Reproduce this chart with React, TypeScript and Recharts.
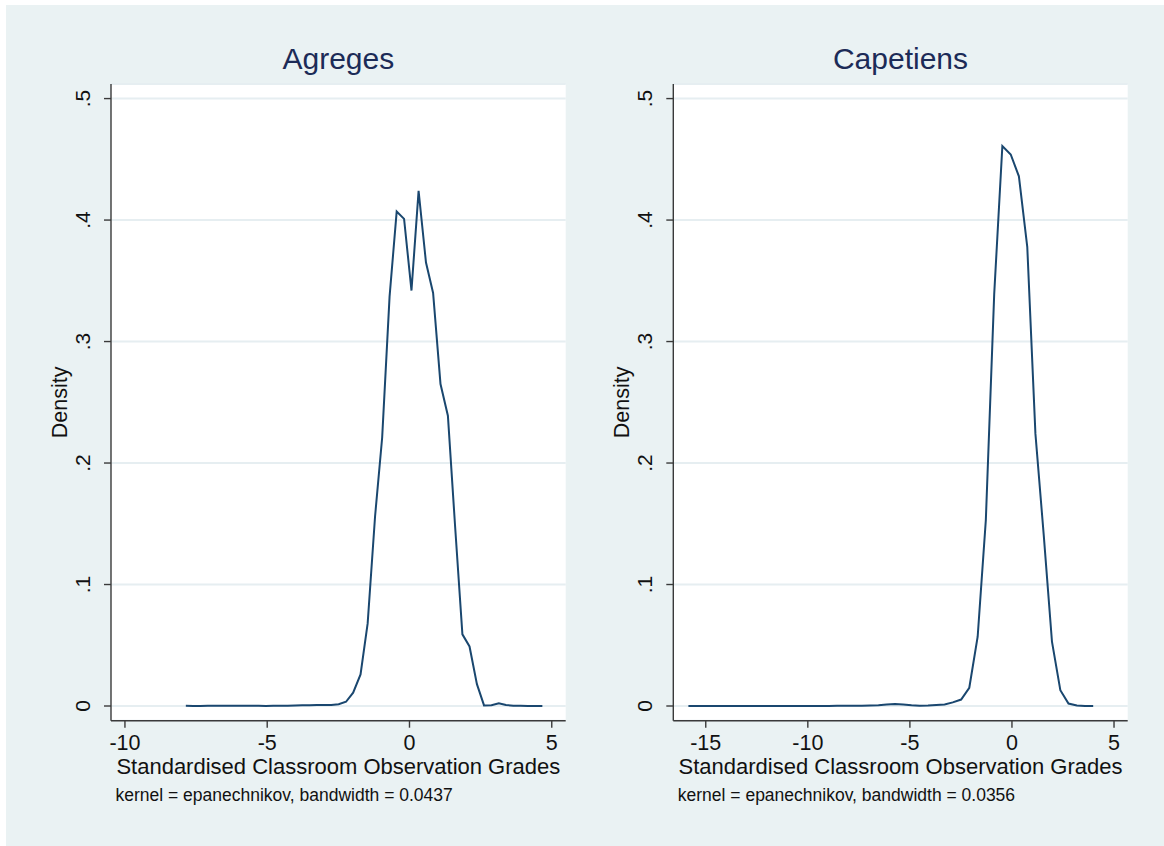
import React from "react";
import { LineChart, Line, XAxis, YAxis, CartesianGrid, Label } from "recharts";

// ---- Data (kdensity evaluation grid, 50 points each) ----
const agregesX = [
  -7.86, -7.6, -7.35, -7.09, -6.84, -6.58, -6.33, -6.07, -5.81, -5.56,
  -5.3, -5.05, -4.79, -4.54, -4.28, -4.02, -3.77, -3.51, -3.26, -3.0,
  -2.75, -2.49, -2.23, -1.98, -1.72, -1.47, -1.21, -0.96, -0.7, -0.45,
  -0.19, 0.07, 0.32, 0.58, 0.83, 1.09, 1.35, 1.6, 1.86, 2.11,
  2.37, 2.62, 2.88, 3.14, 3.39, 3.65, 3.9, 4.16, 4.41, 4.67,
];
const agregesY = [
  0.0002, 0.0001, 0.0001, 0.0002, 0.0003, 0.0003, 0.0002, 0.0002, 0.0003, 0.0002,
  0.0002, 0.0001, 0.0002, 0.0003, 0.0003, 0.0005, 0.0006, 0.0006, 0.0008, 0.0008,
  0.0008, 0.0015, 0.0035, 0.011, 0.026, 0.068, 0.156, 0.221, 0.337, 0.407,
  0.401, 0.342, 0.424, 0.365, 0.34, 0.265, 0.239, 0.149, 0.059, 0.049,
  0.018, 0.0005, 0.0006, 0.0022, 0.0008, 0.0003, 0.0002, 0.0001, 0.0001, 0.0001,
];

const capetiensX = [
  -15.85, -15.45, -15.04, -14.64, -14.23, -13.83, -13.42, -13.02, -12.61, -12.21,
  -11.8, -11.4, -10.99, -10.59, -10.18, -9.78, -9.38, -8.97, -8.57, -8.16,
  -7.76, -7.35, -6.95, -6.54, -6.14, -5.73, -5.33, -4.92, -4.52, -4.11,
  -3.71, -3.3, -2.9, -2.49, -2.09, -1.68, -1.28, -0.87, -0.47, -0.06,
  0.34, 0.75, 1.15, 1.56, 1.96, 2.37, 2.77, 3.18, 3.58, 3.98,
];
const capetiensY = [
  0.0001, 0.0001, 0.0001, 0.0001, 0.0001, 0.0001, 0.0001, 0.0001, 0.0001, 0.0001,
  0.0001, 0.0001, 0.0001, 0.0001, 0.0001, 0.0001, 0.0001, 0.0001, 0.0002, 0.0002,
  0.0002, 0.0003, 0.0004, 0.0006, 0.0012, 0.0017, 0.0012, 0.0006, 0.0003, 0.0004,
  0.0008, 0.0013, 0.003, 0.0053, 0.015, 0.057, 0.153, 0.339, 0.461, 0.454,
  0.436, 0.378, 0.224, 0.14, 0.053, 0.013, 0.002, 0.0004, 0.0001, 0.0001,
];

const agregesTicks = [-10, -5, 0, 5];
const capetiensTicks = [-15, -10, -5, 0, 5];
const yTicks = [0, 0.1, 0.2, 0.3, 0.4, 0.5];
const yTickLabels = ["0", ".1", ".2", ".3", ".4", ".5"];

const titles = ["Agreges", "Capetiens"];
const xTitle = "Standardised Classroom Observation Grades";
const yTitle = "Density";
const notes = [
  "kernel = epanechnikov, bandwidth = 0.0437",
  "kernel = epanechnikov, bandwidth = 0.0356",
];

// ---- Styling ----
const FONT = "'Liberation Sans', Arial, Helvetica, sans-serif";
const OUTER_BG = "#eaf2f3";
const GRID = "#e6eef1";
const LINE = "#1a476f";
const AXIS = "#3a3a3a";
const TEXT = "#111111";
const TITLE = "#1c2b57";

const toData = (xs: number[], ys: number[]) => xs.map((x, i) => ({ x, y: ys[i] }));

const XTick = (props: any) => {
  const { x, y, payload } = props;
  return (
    <text x={x} y={y + 20.5} textAnchor="middle" fontFamily={FONT} fontSize={21.5} fill={TEXT}>
      {String(payload.value)}
    </text>
  );
};

const YTick = (props: any) => {
  const { x, y, payload } = props;
  const idx = yTicks.findIndex((t) => Math.abs(t - payload.value) < 1e-9);
  const label = idx >= 0 ? yTickLabels[idx] : String(payload.value);
  const bx = x - 12;
  return (
    <text
      x={bx}
      y={y}
      textAnchor="middle"
      transform={`rotate(-90, ${bx}, ${y})`}
      fontFamily={FONT}
      fontSize={21}
      fill={TEXT}
    >
      {label}
    </text>
  );
};

const makeXLabel = (title: string, note: string) => (props: any) => {
  const vb = props.viewBox || {};
  const cx = vb.x + vb.width / 2;
  const top = vb.y;
  return (
    <g>
      <text x={cx} y={top - 651.7} textAnchor="middle" fontFamily={FONT} fontSize={30} fill={TITLE}>
        {title}
      </text>
      <text x={cx} y={top + 53.3} textAnchor="middle" fontFamily={FONT} fontSize={22} fill={TEXT}>
        {xTitle}
      </text>
      <text x={vb.x + 4.5} y={top + 80.3} textAnchor="start" fontFamily={FONT} fontSize={17.5} fill={TEXT}>
        {note}
      </text>
    </g>
  );
};

const YLabel = (props: any) => {
  const vb = props.viewBox || {};
  const bx = vb.x + vb.width - 44;
  const cy = vb.y + vb.height / 2;
  return (
    <text
      x={bx}
      y={cy}
      textAnchor="middle"
      transform={`rotate(-90, ${bx}, ${cy})`}
      fontFamily={FONT}
      fontSize={21.5}
      fill={TEXT}
    >
      {yTitle}
    </text>
  );
};

type PanelProps = {
  left: number;
  width: number;
  yAxisWidth: number;
  marginRight: number;
  data: { x: number; y: number }[];
  domain: [number, number];
  ticks: number[];
  title: string;
  note: string;
};

const Panel = ({ left, width, yAxisWidth, marginRight, data, domain, ticks, title, note }: PanelProps) => (
  <div style={{ position: "absolute", left, top: 0, width, height: 846 }}>
    <LineChart
      width={width}
      height={846}
      data={data}
      margin={{ top: 84, right: marginRight, bottom: 65.3, left: 0 }}
    >
      <CartesianGrid vertical={false} horizontal={true} fill="#ffffff" stroke={GRID} strokeWidth={2} />
      <XAxis
        dataKey="x"
        type="number"
        domain={domain}
        ticks={ticks}
        allowDataOverflow
        height={60}
        tickSize={7}
        axisLine={{ stroke: AXIS, strokeWidth: 1.4 }}
        tickLine={{ stroke: AXIS, strokeWidth: 1.4 }}
        tick={<XTick />}
        interval={0}
      >
        <Label content={makeXLabel(title, note)} />
      </XAxis>
      <YAxis
        type="number"
        domain={[-0.0121, 0.512]}
        ticks={yTicks}
        allowDataOverflow
        width={yAxisWidth}
        tickSize={7}
        axisLine={{ stroke: AXIS, strokeWidth: 1.4 }}
        tickLine={{ stroke: AXIS, strokeWidth: 1.4 }}
        tick={<YTick />}
        interval={0}
      >
        <Label content={YLabel} />
      </YAxis>
      <Line
        type="linear"
        dataKey="y"
        stroke={LINE}
        strokeWidth={2}
        dot={false}
        activeDot={false}
        isAnimationActive={false}
      />
    </LineChart>
  </div>
);

export default function App() {
  const agreges = toData(agregesX, agregesY);
  const capetiens = toData(capetiensX, capetiensY);
  return (
    <div style={{ position: "absolute", left: 0, top: 0, width: 1164, height: 846, background: "#ffffff", overflow: "hidden" }}>
      <div style={{ position: "absolute", left: 6, top: 5, width: 1158, height: 841, background: OUTER_BG }} />
      <Panel
        left={0}
        width={580}
        yAxisWidth={111}
        marginRight={14.3}
        data={agreges}
        domain={[-10.49, 5.49]}
        ticks={agregesTicks}
        title={titles[0]}
        note={notes[0]}
      />
      <Panel
        left={562}
        width={602}
        yAxisWidth={111.3}
        marginRight={36.3}
        data={capetiens}
        domain={[-16.59, 5.67]}
        ticks={capetiensTicks}
        title={titles[1]}
        note={notes[1]}
      />
    </div>
  );
}
